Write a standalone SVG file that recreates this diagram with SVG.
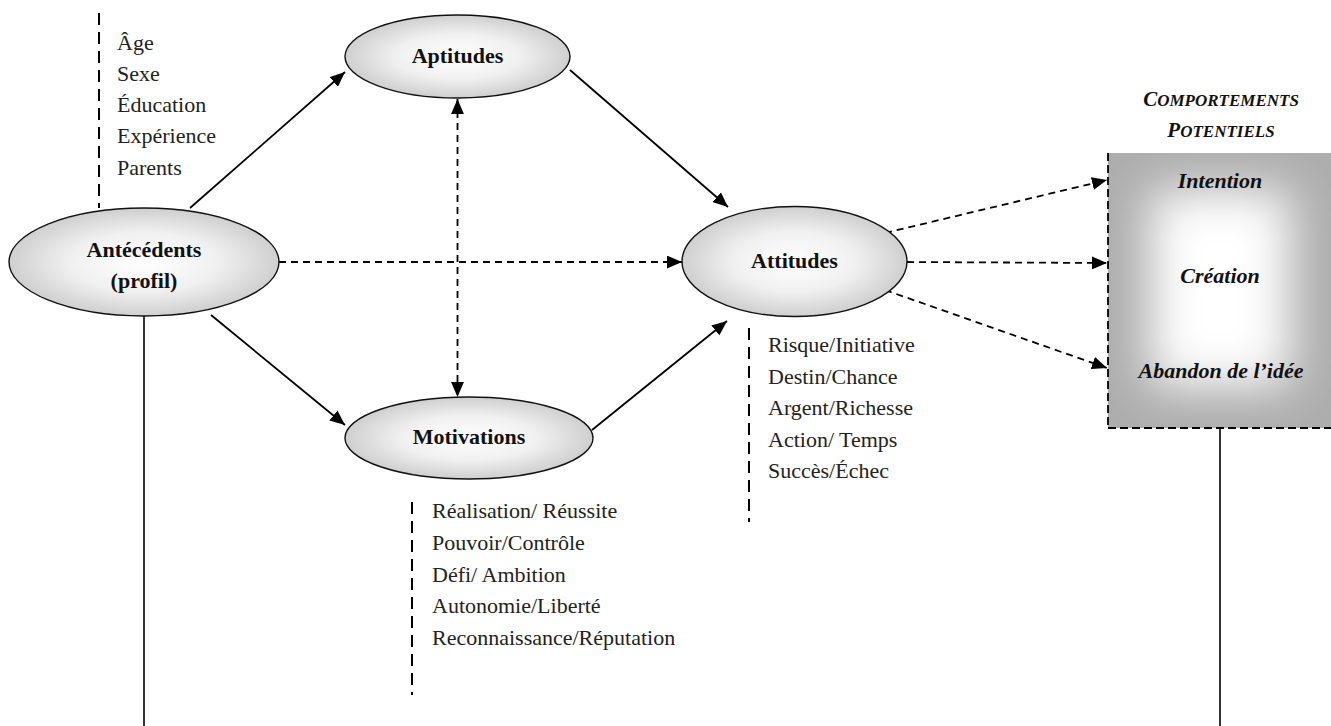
<svg xmlns="http://www.w3.org/2000/svg" width="1331" height="726" viewBox="0 0 1331 726">
<style>
.node{stroke:#111;stroke-width:1.4;fill:url(#eg)}
.lbl{font-family:"Liberation Serif","Times New Roman",serif;font-weight:bold;font-size:22px;fill:#111;text-anchor:middle}
.lst{font-family:"Liberation Serif","Times New Roman",serif;font-size:22px;fill:#222}
.box{font-family:"Liberation Serif","Times New Roman",serif;font-weight:bold;font-style:italic;font-size:22px;fill:#111;text-anchor:middle}
.ttl{font-family:"Liberation Serif","Times New Roman",serif;font-weight:bold;font-style:italic;font-size:17px;fill:#111;text-anchor:middle}
.sol{stroke:#000;stroke-width:1.8;fill:none}
.dsh{stroke:#000;stroke-width:1.8;fill:none;stroke-dasharray:7,5}
.ldsh{stroke:#000;stroke-width:2;fill:none;stroke-dasharray:12,7}
.bdsh{stroke:#000;stroke-width:1.8;fill:none;stroke-dasharray:8,4}
.thin{stroke:#000;stroke-width:1.6;fill:none}
</style>
<defs>
<radialGradient id="eg" cx="0.5" cy="0.5" r="0.5">
<stop offset="0" stop-color="#ffffff"/>
<stop offset="0.55" stop-color="#f0f0f0"/>
<stop offset="1" stop-color="#cfcfcf"/>
</radialGradient>
<filter id="blur" x="-50%" y="-50%" width="200%" height="200%">
<feGaussianBlur stdDeviation="24"/>
</filter>
<clipPath id="boxclip"><rect x="1108" y="153" width="224" height="275"/></clipPath>
<marker id="ah" viewBox="0 0 14 12" refX="14" refY="6" markerWidth="15" markerHeight="13" markerUnits="userSpaceOnUse" orient="auto-start-reverse">
<path d="M0,0 L14,6 L0,12 z" fill="#000"/>
</marker>
</defs>

<g id="connectors">
<line class="sol" x1="190" y1="208" x2="345" y2="72" marker-end="url(#ah)"/>
<line class="sol" x1="570" y1="70" x2="728" y2="207" marker-end="url(#ah)"/>
<line class="sol" x1="211" y1="315" x2="345" y2="425" marker-end="url(#ah)"/>
<line class="sol" x1="592" y1="430" x2="727" y2="321" marker-end="url(#ah)"/>
<line class="dsh" x1="279" y1="262" x2="682" y2="262" marker-end="url(#ah)"/>
<line class="dsh" x1="457.5" y1="99" x2="457.5" y2="397" marker-start="url(#ah)" marker-end="url(#ah)"/>
<line class="dsh" x1="885" y1="233" x2="1107" y2="180" marker-end="url(#ah)"/>
<line class="dsh" x1="907" y1="262" x2="1107" y2="263" marker-end="url(#ah)"/>
<line class="dsh" x1="885" y1="290" x2="1107" y2="368" marker-end="url(#ah)"/>
<line class="thin" x1="144" y1="316" x2="144" y2="726"/>
<line class="thin" x1="1220" y1="428" x2="1220" y2="726"/>
<line class="ldsh" x1="99" y1="13" x2="99" y2="208"/>
<line class="ldsh" x1="749" y1="328" x2="749" y2="522"/>
<line class="ldsh" x1="412" y1="502" x2="412" y2="695"/>
</g>

<g id="antecedents">
<ellipse class="node" cx="144" cy="262" rx="135" ry="54"/>
<text class="lbl" x="144" y="257">Antécédents</text>
<text class="lbl" x="144" y="288">(profil)</text>
</g>
<g id="antecedents-list">
<text class="lst" x="117" y="50">Âge</text>
<text class="lst" x="117" y="81">Sexe</text>
<text class="lst" x="117" y="112">Éducation</text>
<text class="lst" x="117" y="143">Expérience</text>
<text class="lst" x="117" y="175">Parents</text>
</g>

<g id="aptitudes">
<ellipse class="node" cx="457.5" cy="56.5" rx="112.5" ry="41.5"/>
<text class="lbl" x="457.5" y="63">Aptitudes</text>
</g>

<g id="motivations">
<ellipse class="node" cx="469" cy="438" rx="124" ry="41"/>
<text class="lbl" x="469" y="444">Motivations</text>
</g>
<g id="motivations-list">
<text class="lst" x="432" y="518">Réalisation/ Réussite</text>
<text class="lst" x="432" y="550">Pouvoir/Contrôle</text>
<text class="lst" x="432" y="582">Défi/ Ambition</text>
<text class="lst" x="432" y="613">Autonomie/Liberté</text>
<text class="lst" x="432" y="645">Reconnaissance/Réputation</text>
</g>

<g id="attitudes">
<ellipse class="node" cx="794.5" cy="261.5" rx="112.5" ry="55"/>
<text class="lbl" x="794.5" y="268">Attitudes</text>
</g>
<g id="attitudes-list">
<text class="lst" x="768" y="352">Risque/Initiative</text>
<text class="lst" x="768" y="384">Destin/Chance</text>
<text class="lst" x="768" y="415">Argent/Richesse</text>
<text class="lst" x="768" y="447">Action/ Temps</text>
<text class="lst" x="768" y="478">Succès/Échec</text>
</g>

<g id="comportements">
<g clip-path="url(#boxclip)">
<rect x="1108" y="153" width="224" height="275" fill="#adadad"/>
<rect x="1150" y="190" width="140" height="196" fill="#ffffff" filter="url(#blur)"/>
</g>
<line class="bdsh" x1="1108" y1="153" x2="1108" y2="428"/>
<line class="bdsh" x1="1108" y1="428" x2="1331" y2="428"/>
<text class="box" x="1220" y="188">Intention</text>
<text class="box" x="1220" y="283">Création</text>
<text class="box" x="1221" y="378">Abandon de l’idée</text>
<text class="ttl" x="1221" y="106"><tspan font-size="21">C</tspan>OMPORTEMENTS</text>
<text class="ttl" x="1221" y="137"><tspan font-size="21">P</tspan>OTENTIELS</text>
</g>
</svg>
